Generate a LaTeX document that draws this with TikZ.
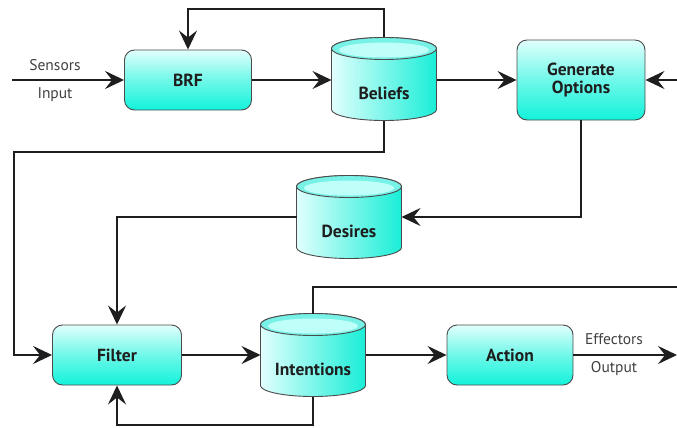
\documentclass[tikz,border=0pt]{standalone}
\usepackage{fontspec}
\setmainfont{PT Sans}
\usetikzlibrary{calc,arrows.meta}
\definecolor{boxlight}{RGB}{225,255,252}
\definecolor{boxdark}{RGB}{18,242,218}
\definecolor{cyllight}{RGB}{225,255,253}
\definecolor{cyldark}{RGB}{25,238,215}
\definecolor{capout}{RGB}{120,242,230}
\definecolor{capin}{RGB}{190,255,250}
\definecolor{ink}{RGB}{30,30,30}
\tikzset{
  procbox/.style={draw=ink!80, line width=0.9pt, rounded corners=10pt, top color=boxlight, bottom color=boxdark, middle color=boxdark!55!boxlight, minimum width=127pt, minimum height=60pt, inner sep=0pt, font=\fontsize{17.5}{19}\selectfont\bfseries, text=ink, align=center},
  cylbox/.style={rectangle, minimum width=105pt, minimum height=83pt, inner sep=0pt, outer sep=0pt},
  cylfill/.style={draw=ink!80, line width=0.9pt, left color=cyllight, right color=cyldark},
  capfill/.style={draw=ink!80, line width=0.9pt, fill=capout},
  lbl/.style={font=\fontsize{17.5}{19}\selectfont\bfseries, text=ink, inner sep=0pt},
  small/.style={font=\fontsize{15.5}{17}\selectfont, text=ink!85, inner sep=0pt},
  conn/.style={draw=ink, line width=2.1pt},
  arr/.style={conn, -{Stealth[length=19pt,width=18pt,inset=7pt]}}
}
\newcommand\mycyl[3]{%
  \node[cylbox] (#1) at (#2,#3) {};
  \path[cylfill] ($(#1.north west)+(0,11)$) -- ($(#1.south west)+(0,-11)$)
     arc[start angle=180,end angle=360,x radius=52.5pt,y radius=11pt]
     -- ($(#1.north east)+(0,11)$)
     arc[start angle=0,end angle=180,x radius=52.5pt,y radius=11pt] -- cycle;
  \draw[capfill] ($(#1.north)+(0,11)$) ellipse[x radius=52.5pt,y radius=11pt];
  \fill[capin] ($(#1.north)+(0,12.5)$) ellipse[x radius=45pt,y radius=7.5pt];
}
\begin{document}
\begin{tikzpicture}[x=1pt,y=-1pt]
\useasboundingbox (0,0) rectangle (677,428);
% process boxes
\node[procbox] (brf) at (188,80) {BRF};
\node[procbox, minimum width=128pt, minimum height=80pt] (gen) at (581,80) {Generate\\[-1pt]Options};
\node[procbox, minimum width=129pt] (filter) at (117,355) {Filter};
\node[procbox, minimum width=126pt] (action) at (510,355) {Action};
% cylinders
\mycyl{beliefs}{384}{79}
\node[lbl] (beliefsL) at (384,93) {Beliefs};
\mycyl{desires}{349}{217}
\node[lbl] (desiresL) at (349,231) {Desires};
\mycyl{intentions}{313}{355}
\node[lbl] (intentionsL) at (313,369) {Intentions};
% free ends
\coordinate (sin) at (12,80);
\coordinate (gin) at (677,80);
\coordinate (iout) at (677,287);
\coordinate (eout) at (677,355);
% connectors
\draw[arr] (sin) -- (brf.west);
\node[small] (sensors) at (55,65) {Sensors};
\node[small] (input) at (55,95) {Input};
\draw[arr] (brf.east) -- (beliefs.west |- brf.east);
\draw[arr] (beliefs.north) -- (beliefs.north |- 0,9) -| (brf.north);
\draw[arr] (beliefs.east |- gen.west) -- (gen.west);
\draw[arr] (gin) -- (gen.east);
\draw[arr] (gen.south) |- (desires.east);
\draw[arr] (beliefs.south) |- (14,152) |- (filter.west);
\draw[arr] (desires.west) -| (filter.north);
\draw[arr] (filter.east) -- (intentions.west);
\draw[conn] (intentions.north) |- (iout);
\draw[arr] (intentions.south) -- (intentions.south |- 0,425) -| (filter.south);
\draw[arr] (intentions.east) -- (action.west);
\draw[arr] (action.east) -- (eout);
\node[small] (effectors) at (614,339) {Effectors};
\node[small] (output) at (614,369) {Output};
\end{tikzpicture}
\end{document}
